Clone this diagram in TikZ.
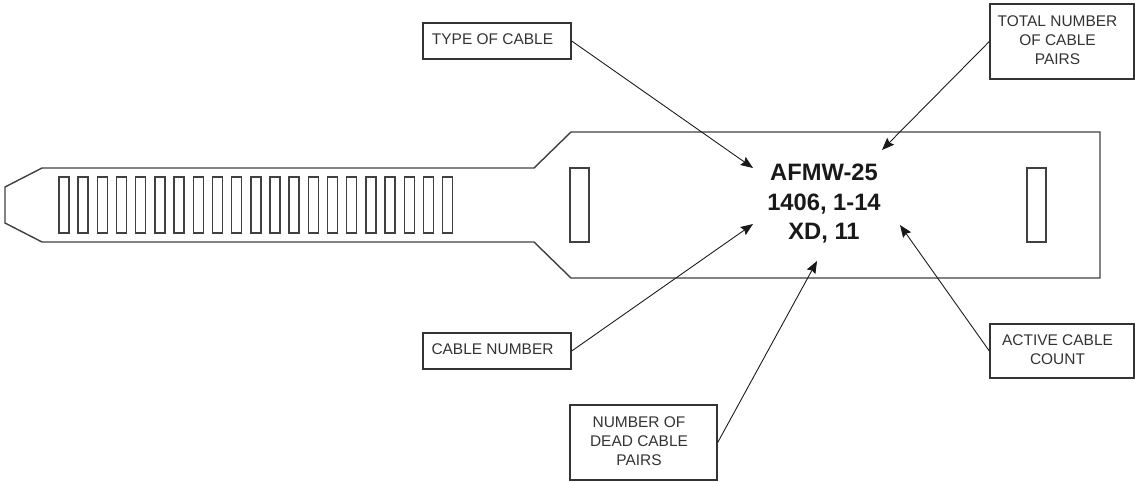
\documentclass[tikz,border=0pt]{standalone}
\usepackage{fontspec}
\setmainfont{Liberation Sans}
\usetikzlibrary{calc, arrows.meta}

% text sits a little left of the box centre
\newcommand{\boxtext}[1]{\begin{tabular}{@{}c@{}}#1\end{tabular}\hspace*{0.18cm}}

\tikzset{
    labelbox/.style={draw=black!80, line width=0.8pt, inner sep=0pt, font=\fontsize{8.8pt}{10.8pt}\selectfont, text=black!80},
    outline/.style={draw=black!75, line width=0.8pt},
    pointer/.style={draw=black!90, line width=0.5pt, -{Stealth[length=7pt,width=5.5pt,inset=1pt]}}
}

\begin{document}
\begin{tikzpicture}[x=0.02cm, y=-0.02cm]
    \useasboundingbox (0,0) rectangle (1135,481);

    % 1. Strap outline
    \draw[outline] (5,187) -- (42,168) -- (534,168) -- (571,132) -- (1100,132)
        -- (1100,278) -- (571,278) -- (534,242) -- (42,242) -- (5,223) -- cycle;

    % 2. Ratchet slots
    \foreach \k in {0,...,20} {
        \draw[outline] ({59+19.18*\k},177) rectangle ({69+19.18*\k},233);
    }

    % 3. Holes at both ends
    \draw[outline] (570,168) rectangle (589,242);
    \draw[outline] (1027,168) rectangle (1046,242);

    % 4. Printed text
    \node[align=center, font=\fontsize{13.5pt}{16.8pt}\selectfont\bfseries, text=black!90] (tag) at (824,204) {AFMW-25\\1406, 1-14\\XD, 11};

    % 5. Label boxes
    \node[labelbox, minimum width=2.96cm, minimum height=0.72cm] (type) at (497,41) {\boxtext{TYPE OF CABLE}};
    \node[labelbox, minimum width=2.96cm, minimum height=0.72cm] (cable) at (497,351) {\boxtext{CABLE NUMBER}};
    \node[labelbox, minimum width=2.94cm, minimum height=1.5cm] (dead) at (643.5,442.5) {\boxtext{NUMBER OF\\DEAD CABLE\\PAIRS}};
    \node[labelbox, minimum width=2.88cm, minimum height=1.5cm] (total) at (1062,41.5) {\boxtext{TOTAL NUMBER\\OF CABLE\\PAIRS}};
    \node[labelbox, minimum width=2.88cm, minimum height=1.08cm] (active) at (1062,351) {\boxtext{ACTIVE CABLE\\COUNT}};

    % 6. Arrow targets
    \coordinate (typeEnd) at (753,168);
    \coordinate (totalEnd) at (882,150);
    \coordinate (cableEnd) at (753,224);
    \coordinate (deadEnd) at (817,261);
    \coordinate (activeEnd) at (900,225);

    % 7. Pointers
    \draw[pointer] (type.east) -- (typeEnd);
    \draw[pointer] (total.west) -- (totalEnd);
    \draw[pointer] (cable.east) -- (cableEnd);
    \draw[pointer] (dead.east) -- (deadEnd);
    \draw[pointer] (active.west) -- (activeEnd);
\end{tikzpicture}
\end{document}
